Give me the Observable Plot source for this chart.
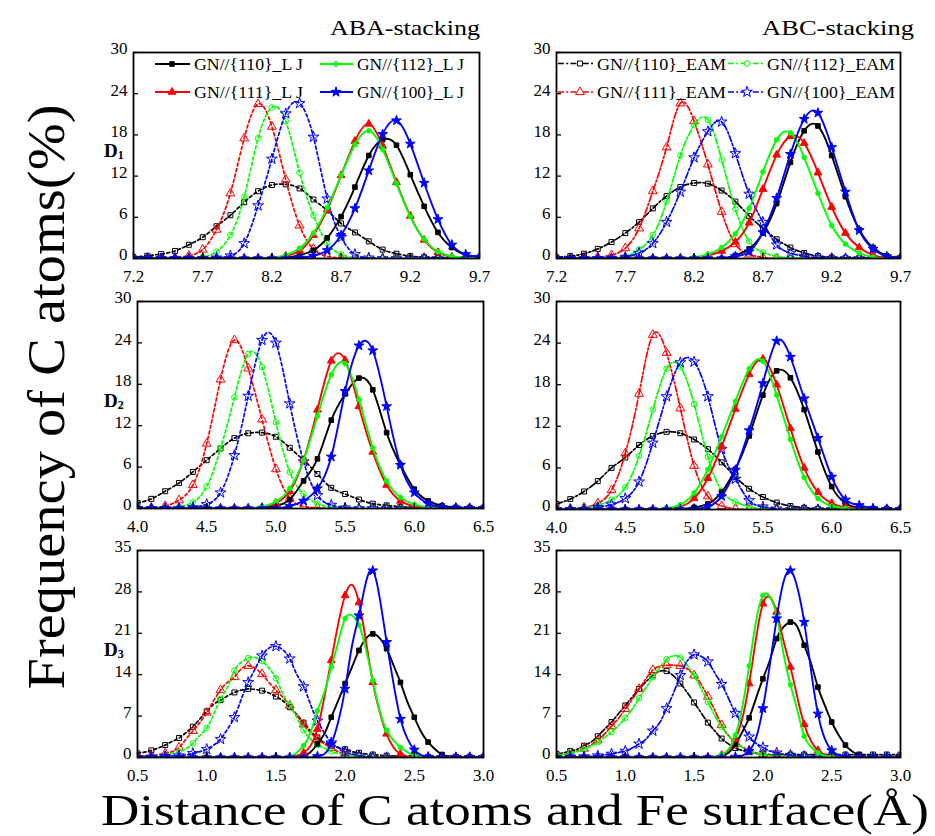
<!DOCTYPE html>
<html>
<head>
<meta charset="utf-8">
<script src="https://cdn.jsdelivr.net/npm/d3@7"></script>
<script src="https://cdn.jsdelivr.net/npm/@observablehq/plot@0.6"></script>
<style>
html, body { margin: 0; padding: 0; background: #fff; }
#root { position: relative; width: 935px; height: 836px; overflow: hidden; background: #fff; }
#root > svg { position: absolute; }
</style>
</head>
<body>
<div id="root"></div>
<script>
// ---------- series ----------
const seriesNames = ["{110}", "{111}", "{112}", "{100}"];
const seriesColors = ["#000000", "#ff0000", "#00ff00", "#0000ff"];
const seriesSymbols = ["square", "triangle", "circle", "star"];

// ---------- x grids & ticks ----------
const xD1 = [7.2,7.3,7.4,7.5,7.6,7.7,7.8,7.9,8.0,8.1,8.2,8.3,8.4,8.5,8.6,8.7,8.8,8.9,9.0,9.1,9.2,9.3,9.4,9.5,9.6,9.7];
const xD2 = [4.0,4.1,4.2,4.3,4.4,4.5,4.6,4.7,4.8,4.9,5.0,5.1,5.2,5.3,5.4,5.5,5.6,5.7,5.8,5.9,6.0,6.1,6.2,6.3,6.4,6.5];
const xD3 = [0.5,0.55,0.6,0.65,0.7,0.75,0.8,0.85,0.9,0.95,1.0,1.05,1.1,1.15,1.2,1.25,1.3,1.35,1.4,1.45,1.5,1.55,1.6,1.65,1.7,1.75,1.8,1.85,1.9,1.95,2.0,2.05,2.1,2.15,2.2,2.25,2.3,2.35,2.4,2.45,2.5,2.55,2.6,2.65,2.7,2.75,2.8,2.85,2.9,2.95,3.0];
const ticksD1 = [7.2, 7.7, 8.2, 8.7, 9.2, 9.7];
const ticksD2 = [4.0, 4.5, 5.0, 5.5, 6.0, 6.5];
const ticksD3 = [0.5, 1.0, 1.5, 2.0, 2.5, 3.0];
const ticksY30 = [0, 6, 12, 18, 24, 30];
const ticksY35 = [0, 7, 14, 21, 28, 35];

// ---------- D1 (order: {110}, {111}, {112}, {100}) ----------
const d1AbaLJ = [
  [0,0,0,0,0,0,0,0,0,0,0,0.1,0.5,1.2,3.0,6.1,10.4,15.0,17.3,16.5,12.2,7.6,3.8,1.6,0.5,0.2],
  [0,0,0,0,0,0,0,0,0,0,0.1,0.4,1.1,3.4,7.1,12.1,17.1,19.6,16.4,11.1,6.2,2.7,0.9,0.2,0.1,0],
  [0,0,0,0,0,0,0,0,0,0,0.1,0.5,1.5,3.7,7.4,12.1,16.6,18.6,15.9,10.9,6.1,2.8,1.0,0.3,0.1,0],
  [0,0,0,0,0,0,0,0,0,0,0,0,0.1,0.4,1.2,3.4,7.3,12.8,18.1,20.1,16.7,11.0,5.7,2.0,0.6,0.2]
];
const d1AbaEAM = [
  [0.2,0.4,0.65,1.1,2.0,3.1,4.7,6.3,8.2,9.8,10.7,10.8,10.2,8.6,7.0,5.1,3.8,2.5,1.3,0.7,0.35,0.2,0.1,0.05,0,0],
  [0,0,0,0.1,0.4,1.3,4.2,9.5,17.5,22.5,19.2,11.5,4.8,1.4,0.3,0.1,0,0,0,0,0,0,0,0,0,0],
  [0,0,0,0,0.1,0.2,1.0,3.4,9.0,17.5,22.0,20.0,12.5,6.3,2.2,0.6,0.1,0,0,0,0,0,0,0,0,0],
  [0,0,0,0,0,0,0.1,0.4,2.2,7.7,14.5,21.1,22.6,17.7,8.7,3.1,0.6,0.1,0,0,0,0,0,0,0,0]
];
const d1AbcLJ = [
  [0,0,0,0,0,0,0,0,0,0,0,0,0,0.45,1.4,3.7,8.0,14.0,18.6,19.3,15.0,9.0,4.2,1.6,0.4,0.1],
  [0,0,0,0,0,0,0,0,0,0,0,0.4,1.1,2.4,5.2,10.1,15.1,17.8,16.8,12.5,7.5,3.7,1.6,0.5,0.1,0],
  [0,0,0,0,0,0,0,0,0,0,0.2,0.6,1.6,3.6,7.3,12.6,17.3,18.3,14.7,9.5,4.8,2.1,0.8,0.2,0,0],
  [0,0,0,0,0,0,0,0,0,0,0,0,0,0.3,1.0,3.8,8.8,15.2,20.3,21.2,16.2,9.7,4.1,1.4,0.3,0.1]
];
const d1AbcEAM = [
  [0.15,0.35,0.7,1.4,2.4,3.7,5.3,7.3,9.1,10.4,11.0,10.9,9.9,8.3,6.2,4.4,2.8,1.6,0.8,0.35,0.15,0.1,0.1,0.1,0.1,0.1],
  [0,0,0.1,0.2,0.5,1.5,4.4,9.8,16.2,22.6,20.0,13.7,6.8,2.1,0.6,0.15,0,0,0,0,0,0,0,0,0,0],
  [0,0,0,0,0.1,0.3,1.3,3.4,8.3,15.0,19.4,20.2,14.4,7.2,2.5,0.9,0.3,0.1,0,0,0,0,0,0,0,0],
  [0,0,0,0,0,0.2,0.8,2.2,5.3,9.7,14.7,18.5,19.9,15.3,9.4,5.3,2.0,0.8,0.3,0.1,0,0,0,0,0,0]
];

// ---------- D2 ----------
const d2AbaLJ = [
  [0,0,0,0,0,0,0,0,0,0.1,0.4,1.3,4.0,7.2,12.8,16.6,18.9,17.2,11.0,6.3,2.8,1.1,0.4,0.15,0.1,0],
  [0,0,0,0,0,0,0,0,0,0.2,0.8,2.5,7.0,14.3,21.4,21.5,14.8,8.2,3.4,1.1,0.3,0.1,0,0,0,0],
  [0,0,0,0,0,0,0,0,0,0.3,1.0,2.9,7.0,13.4,19.4,21.0,15.8,8.8,4.0,1.6,0.6,0.15,0,0,0,0],
  [0,0,0,0,0,0,0,0,0,0,0,0.35,1.1,2.9,7.5,17.0,23.6,22.9,14.8,6.3,2.3,0.7,0.2,0.1,0,0]
];
const d2AbaEAM = [
  [0.8,1.4,2.5,3.7,5.3,7.0,8.7,10.2,10.9,11.0,10.4,8.8,7.0,5.0,3.0,2.1,1.3,0.7,0.45,0.25,0.15,0.1,0.1,0.1,0.1,0.1],
  [0,0.1,0.35,1.2,3.4,9.4,18.7,24.4,20.3,12.9,5.7,1.5,0.3,0.1,0,0,0,0,0,0,0,0,0,0,0,0],
  [0,0,0.1,0.25,0.9,3.2,8.7,16.1,22.4,20.5,12.5,5.3,2.1,0.7,0.2,0.1,0,0,0,0,0,0,0,0,0,0],
  [0,0,0,0,0.15,0.6,2.3,7.7,16.3,24.4,24.0,15.2,6.8,1.9,0.5,0.1,0,0,0,0,0,0,0,0,0,0]
];
const d2AbcLJ = [
  [0,0,0,0,0,0,0,0,0,0,0.3,0.8,2.5,5.8,10.6,16.5,20.0,19.0,14.4,8.3,3.3,0.9,0.25,0.1,0,0],
  [0,0,0,0,0,0,0,0,0.1,0.4,1.6,4.5,9.1,14.5,19.5,21.7,18.0,11.7,6.0,2.5,0.9,0.3,0.1,0,0,0],
  [0,0,0,0,0,0,0,0,0.2,0.7,2.4,5.8,10.5,15.6,20.3,21.4,16.5,10.1,4.6,1.6,0.5,0.15,0,0,0,0],
  [0,0,0,0,0,0,0,0,0,0,0.1,0.4,1.9,5.7,11.4,18.2,24.3,22.0,16.0,10.3,4.7,1.4,0.6,0.15,0,0]
];
const d2AbcEAM = [
  [0.8,1.5,2.6,4.1,6.0,7.5,9.3,10.6,11.2,11.0,10.1,8.7,6.8,4.7,3.0,1.8,1.0,0.5,0.25,0.1,0.1,0.1,0.1,0.1,0.1,0.1],
  [0,0.1,0.3,0.9,2.8,8.1,16.7,25.2,22.6,14.6,6.3,1.9,0.5,0.1,0,0,0,0,0,0,0,0,0,0,0,0],
  [0,0.1,0.2,0.6,1.4,3.2,7.7,14.4,20.3,20.6,15.2,7.6,2.7,1.1,0.4,0.1,0,0,0,0,0,0,0,0,0,0],
  [0,0,0,0.3,0.7,1.6,4.0,9.6,16.3,21.2,21.3,16.3,8.7,4.4,1.3,0.4,0.1,0,0,0,0,0,0,0,0,0]
];

// ---------- D3 (0.05 step) ----------
const d3AbaLJ = [
  [0,0,0,0,0,0,0,0,0,0,0,0,0,0,0,0,0,0,0,0,0,0,0,0,0.3,0.9,2.3,4.0,6.8,9.6,12.5,15.3,18.1,20.1,20.9,20.2,18.4,15.6,12.7,9.4,6.8,4.3,2.6,1.4,0.5,0.2,0.1,0,0,0,0],
  [0,0,0,0,0,0,0,0,0,0,0,0,0,0,0,0,0,0,0,0,0,0,0.1,0.3,0.8,2.0,4.8,10.2,16.4,22.6,27.4,29.2,26.2,19.8,12.7,7.7,4.0,1.7,0.6,0.2,0,0,0,0,0,0,0,0,0,0,0],
  [0,0,0,0,0,0,0,0,0,0,0,0,0,0,0,0,0,0,0,0,0,0,0.2,0.8,2.0,4.2,7.9,11.0,15.3,19.5,23.5,24.0,22.4,18.4,13.0,7.9,4.6,2.9,1.7,0.9,0.3,0.1,0,0,0,0,0,0,0,0,0],
  [0,0,0,0,0,0,0,0,0,0,0,0,0,0,0,0,0,0,0,0,0,0,0,0,0,0,0.2,0.6,2.3,6.0,11.6,18.9,24.0,29.6,31.6,27.0,19.5,12.5,6.5,3.2,1.3,0.4,0.1,0,0,0,0,0,0,0,0]
];
const d3AbaEAM = [
  [0.7,0.9,1.2,1.6,2.1,2.7,3.3,4.2,5.2,6.5,7.8,9.0,9.7,10.4,11.0,11.4,11.6,11.5,11.3,10.9,10.3,9.6,8.5,7.3,5.9,4.5,3.4,2.5,2.0,1.7,1.4,1.0,0.8,0.6,0.5,0.4,0.3,0.25,0.2,0.2,0.15,0.15,0.1,0.1,0.1,0.1,0.1,0.1,0.1,0.1,0.1],
  [0.2,0.25,0.3,0.45,0.7,1.0,1.7,3.1,4.5,5.9,7.6,9.6,11.4,12.7,13.6,15.0,15.5,15.1,14.1,12.7,11.4,10.2,8.8,7.2,5.6,4.2,3.1,2.3,1.6,1.0,0.7,0.45,0.3,0.2,0.1,0,0,0,0,0,0,0,0,0,0,0,0,0,0,0,0],
  [0.1,0.15,0.15,0.2,0.4,0.7,1.0,1.5,2.4,3.7,5.0,7.3,9.9,11.9,14.7,16.1,16.8,16.9,16.3,15.1,13.4,10.8,8.8,6.8,4.6,3.1,2.1,1.6,1.0,0.7,0.45,0.3,0.2,0.15,0.1,0,0,0,0,0,0,0,0,0,0,0,0,0,0,0,0],
  [0,0,0.1,0.15,0.2,0.25,0.3,0.45,0.7,1.0,1.4,2.1,3.1,4.8,6.8,9.9,12.7,15.0,17.2,18.5,18.8,18.2,16.7,14.1,12.0,9.0,6.2,4.2,2.5,1.7,1.0,0.6,0.3,0.1,0,0,0,0,0,0,0,0,0,0,0,0,0,0,0,0,0]
];
const d3AbcLJ = [
  [0,0,0,0,0,0,0,0,0,0,0,0,0,0,0,0,0,0,0,0,0,0,0,0,0.3,0.8,2.2,4.3,6.7,10.0,13.3,16.4,20.1,22.1,22.9,22.1,19.0,15.9,11.9,8.8,6.0,3.8,2.1,1.0,0.4,0.15,0.1,0,0,0,0],
  [0,0,0,0,0,0,0,0,0,0,0,0,0,0,0,0,0,0,0,0,0,0,0,0,0.4,1.2,3.1,6.6,12.5,20.1,26.0,27.1,24.6,19.7,15.3,10.2,5.6,2.8,1.2,0.5,0.2,0,0,0,0,0,0,0,0,0,0],
  [0,0,0,0,0,0,0,0,0,0,0,0,0,0,0,0,0,0,0,0,0,0,0,0.2,0.5,1.4,3.8,8.5,15.5,23.0,27.4,27.2,24.0,17.5,12.3,8.0,3.6,1.8,0.8,0.3,0.1,0,0,0,0,0,0,0,0,0,0],
  [0,0,0,0,0,0,0,0,0,0,0,0,0,0,0,0,0,0,0,0,0,0,0,0,0,0,0.1,0.3,1.1,3.3,8.3,15.6,23.5,29.7,31.6,28.8,22.9,14.7,7.4,3.2,1.2,0.4,0.1,0,0,0,0,0,0,0,0]
];
const d3AbcEAM = [
  [0.6,0.8,1.1,1.4,2.0,2.6,3.6,4.8,6.0,7.4,8.8,10.2,11.6,12.8,13.9,14.6,14.6,13.8,12.5,11.0,9.3,7.6,5.9,4.5,3.2,2.3,1.6,1.2,0.9,0.7,0.6,0.5,0.5,0.5,0.5,0.5,0.5,0.5,0.5,0.5,0.5,0.5,0.5,0.5,0.5,0.5,0.5,0.5,0.5,0.5,0.5],
  [0.4,0.55,0.75,1.1,1.5,2.1,2.9,4.0,5.3,6.6,8.2,9.8,11.6,13.3,14.8,15.4,15.6,15.6,15.5,15.0,13.9,12.4,10.3,8.0,5.5,3.7,2.6,1.8,1.2,0.8,0.55,0.4,0.3,0.25,0.2,0.15,0.1,0,0,0,0,0,0,0,0,0,0,0,0,0,0],
  [0.4,0.5,0.7,1.0,1.4,1.9,2.6,3.4,4.3,5.4,6.7,8.2,10.0,11.8,13.6,15.2,16.6,17.2,16.9,15.6,13.8,11.7,9.4,7.1,5.2,3.7,2.5,1.7,1.1,0.7,0.5,0.35,0.3,0.25,0.2,0.2,0.2,0.2,0.2,0.2,0.2,0.2,0.2,0.2,0.2,0.2,0.2,0.15,0.1,0.1,0.1],
  [0,0,0.1,0.1,0.15,0.2,0.3,0.45,0.6,0.85,1.1,1.6,2.3,3.1,4.5,5.9,8.3,10.9,13.9,16.3,17.4,17.1,16.2,14.3,12.4,10.0,7.5,5.5,3.5,2.4,1.7,1.1,0.8,0.56,0.4,0.3,0.2,0.15,0.1,0,0,0,0,0,0,0,0,0,0,0,0]
];

// ---------- panel layout (frame box: left, top, width, height) ----------
const panels = [
  {xs: xD1, xt: ticksD1, yt: ticksY30, lj: d1AbaLJ, eam: d1AbaEAM, box: [133, 52, 346, 206], dash: "3,2.6", every: 1},
  {xs: xD1, xt: ticksD1, yt: ticksY30, lj: d1AbcLJ, eam: d1AbcEAM, box: [556, 52, 344, 206], dash: "6,2.2,2,2.2", every: 1},
  {xs: xD2, xt: ticksD2, yt: ticksY30, lj: d2AbaLJ, eam: d2AbaEAM, box: [137, 301, 346, 207], dash: "3,2.6", every: 1},
  {xs: xD2, xt: ticksD2, yt: ticksY30, lj: d2AbcLJ, eam: d2AbcEAM, box: [556, 301, 344, 208], dash: "6,2.2,2,2.2", every: 1},
  {xs: xD3, xt: ticksD3, yt: ticksY35, lj: d3AbaLJ, eam: d3AbaEAM, box: [137, 550, 346, 207], dash: "3,2.6", every: 2},
  {xs: xD3, xt: ticksD3, yt: ticksY35, lj: d3AbcLJ, eam: d3AbcEAM, box: [556, 550, 344, 207], dash: "6,2.2,2,2.2", every: 2}
];

const root = document.getElementById("root");
const FONT = "'Liberation Serif', 'Times New Roman', serif";
const M = {l: 45, r: 15, t: 10, b: 32};
const rLJ = [2.6, 2.9, 2.3, 3.1];
const rEAM = [2.8, 3.3, 2.8, 3.4];

for (const p of panels) {
  const [left, top, w, h] = p.box;
  const marks = [];
  for (const pot of ["EAM", "LJ"]) {
    const set = pot === "LJ" ? p.lj : p.eam;
    set.forEach((vals, si) => {
      const data = vals.map((v, i) => ({x: p.xs[i], y: v, i}));
      const lineOpts = {
        x: "x", y: "y", stroke: seriesColors[si],
        strokeWidth: pot === "LJ" ? 1.9 : 1.7,
        curve: "natural", clip: true
      };
      if (pot === "EAM") lineOpts.strokeDasharray = p.dash;
      marks.push(Plot.line(data, lineOpts));
      marks.push(Plot.dot(data.filter(d => d.i % p.every === 0), {
        x: "x", y: "y", symbol: seriesSymbols[si],
        r: pot === "LJ" ? rLJ[si] : rEAM[si],
        fill: pot === "LJ" ? seriesColors[si] : "none",
        stroke: seriesColors[si], strokeWidth: 1, clip: true
      }));
    });
  }
  marks.push(Plot.frame({stroke: "black", strokeWidth: 1.8}));
  marks.push(Plot.axisX(p.xt, {tickSize: 0, tickPadding: 11, tickFormat: d3.format(".1f"), fontSize: 17, fontFamily: FONT, label: null}));
  marks.push(Plot.axisX(p.xt, {tickSize: -5, tickFormat: () => "", label: null, strokeWidth: 1.3}));
  marks.push(Plot.axisY(p.yt, {tickSize: 0, tickPadding: 6, dy: -3.5, fontSize: 17, fontFamily: FONT, label: null}));
  marks.push(Plot.axisY(p.yt, {tickSize: -5, tickFormat: () => "", label: null, strokeWidth: 1.3}));

  const chart = Plot.plot({
    width: w + M.l + M.r,
    height: h + M.t + M.b,
    marginLeft: M.l, marginRight: M.r, marginTop: M.t, marginBottom: M.b,
    x: {domain: [p.xt[0], p.xt[p.xt.length - 1]], label: null},
    y: {domain: [p.yt[0], p.yt[p.yt.length - 1]], label: null},
    style: {background: "transparent", overflow: "visible", fontFamily: FONT, fontSize: "17px", color: "black"},
    marks
  });
  chart.style.position = "absolute";
  chart.style.left = (left - M.l) + "px";
  chart.style.top = (top - M.t) + "px";
  chart.style.maxWidth = "none";
  root.appendChild(chart);
}

// ---------- overlay: titles, row labels, legends ----------
const ov = d3.select(root).append("svg")
  .attr("width", 935).attr("height", 836)
  .style("left", "0px").style("top", "0px")
  .style("font-family", FONT);

ov.append("text").attr("x", 330).attr("y", 35).attr("font-size", 22)
  .attr("textLength", 150).attr("lengthAdjust", "spacingAndGlyphs").text("ABA-stacking");
ov.append("text").attr("x", 762).attr("y", 35).attr("font-size", 22)
  .attr("textLength", 152).attr("lengthAdjust", "spacingAndGlyphs").text("ABC-stacking");

[["1", 157.3], ["2", 406.8], ["3", 655.8]].forEach(([sub, y]) => {
  const t = ov.append("text").attr("x", 104).attr("y", y).attr("font-size", 19).attr("font-weight", "bold");
  t.append("tspan").text("D");
  t.append("tspan").attr("font-size", 12).attr("dy", 2).text(sub);
});

ov.append("text").attr("transform", "translate(64,397) rotate(-90)")
  .attr("text-anchor", "middle").attr("font-size", 52)
  .attr("textLength", 585).attr("lengthAdjust", "spacingAndGlyphs")
  .text("Frequency of C atoms(%)");
ov.append("text").attr("x", 101).attr("y", 825).attr("font-size", 45)
  .attr("textLength", 828).attr("lengthAdjust", "spacingAndGlyphs")
  .text("Distance of C atoms and Fe surface(\u00C5)");

const symbolTypes = {square: d3.symbolSquare, triangle: d3.symbolTriangle, circle: d3.symbolCircle, star: d3.symbolStar};
const legendGrid = [[0, 2], [1, 3]];
const legends = [
  {pot: "LJ", suffix: "_L J", rows: [64, 92],
   cols: [{x1: 155, x2: 190, mx: 172, tx: 194, tl: 109}, {x1: 320, x2: 353, mx: 336, tx: 357, tl: 107}]},
  {pot: "EAM", suffix: "_EAM", rows: [63.5, 92],
   cols: [{x1: 558, x2: 593, mx: 580, tx: 597, tl: 129}, {x1: 728, x2: 763, mx: 747, tx: 767, tl: 128}]}
];
for (const L of legends) {
  L.rows.forEach((y, r) => {
    L.cols.forEach((c, ci) => {
      const si = legendGrid[r][ci];
      const col = seriesColors[si];
      const ln = ov.append("line").attr("x1", c.x1).attr("x2", c.x2).attr("y1", y).attr("y2", y)
        .attr("stroke", col).attr("stroke-width", L.pot === "LJ" ? 1.9 : 1.7);
      if (L.pot === "EAM") ln.attr("stroke-dasharray", "6,2.2,2,2.2");
      const rr = L.pot === "LJ" ? rLJ[si] : rEAM[si];
      ov.append("path")
        .attr("d", d3.symbol(symbolTypes[seriesSymbols[si]], Math.PI * rr * rr)())
        .attr("transform", `translate(${c.mx},${y})`)
        .attr("fill", L.pot === "LJ" ? col : "white").attr("stroke", col).attr("stroke-width", 1);
      ov.append("text").attr("x", c.tx).attr("y", y + 6).attr("font-size", 17)
        .attr("textLength", c.tl).attr("lengthAdjust", "spacingAndGlyphs")
        .text("GN//" + seriesNames[si] + L.suffix);
    });
  });
}
</script>
</body>
</html>
